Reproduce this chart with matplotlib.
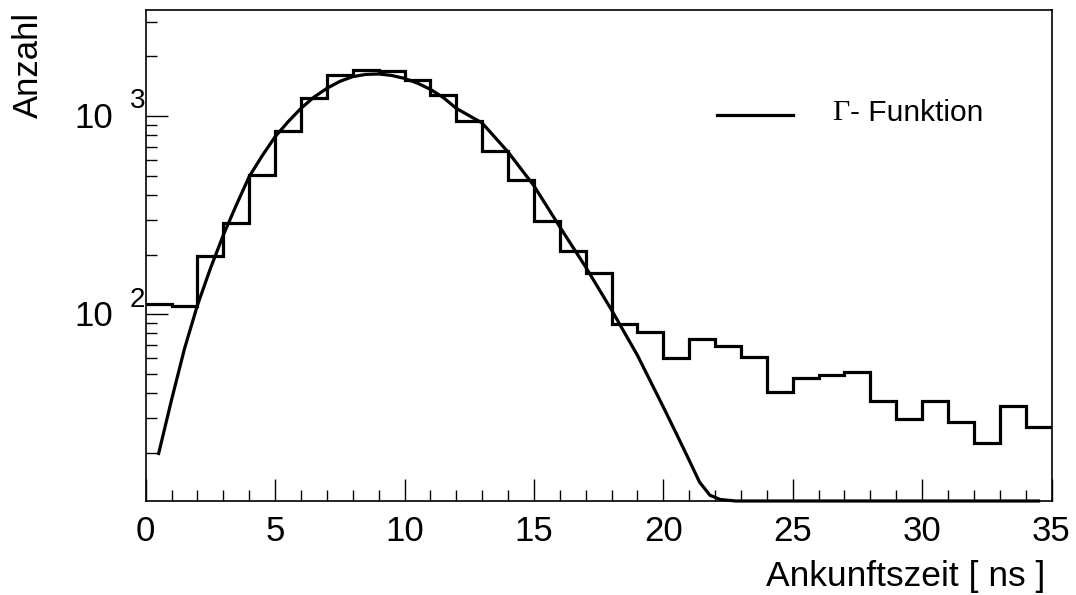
"""Arrival-time histogram (log scale) with the fitted Gamma-function curve."""
import matplotlib
matplotlib.use("Agg")
import matplotlib.pyplot as plt
import numpy as np
from matplotlib.lines import Line2D
from matplotlib.ticker import FixedLocator, NullFormatter, MultipleLocator

plt.rcParams["font.family"] = ["Liberation Sans", "DejaVu Sans"]

# histogram: 1 ns bins from 0 to 35 ns
bin_edges = list(range(0, 36))
counts = [112, 110, 196, 289, 502, 843, 1233, 1606, 1706, 1693,
          1520, 1271, 946, 668, 475, 296, 209, 162, 89, 81,
          60, 75, 69, 61, 40.5, 47.7, 49.2, 50.8, 36.4, 29.7,
          36.6, 28.6, 22.5, 34.4, 26.8]

# fitted Gamma function (values below the axis floor sit on it)
curve_x = [0.5, 1.0, 1.5, 2.0, 2.5, 3.0, 3.5, 4.0, 4.5, 5.0, 5.5, 6.0, 6.5, 7.0,
           7.5, 8.0, 8.5, 9.0, 9.5, 10.0, 10.5, 11.0, 11.5, 12.0, 13.0, 14.0,
           15.0, 16.0, 17.0, 18.0, 19.0, 20.0, 20.5, 21.0, 21.4, 21.8, 22.2,
           22.8, 23.5, 34.5]
curve_y = [19.8, 37, 67, 111, 170, 251, 355, 495, 630, 786, 935, 1094, 1245, 1380,
           1496, 1581, 1622, 1631, 1603, 1549, 1466, 1364, 1240, 1094, 922, 659,
           445, 276, 173, 105, 62, 34, 25, 18.3, 14.2, 12.2, 11.6,
           11.3, 10, 10]

YMIN, YMAX = 11.4, 3430

fig = plt.figure(figsize=(10.76, 5.95), dpi=100)
ax = fig.add_axes([145.7 / 1076, 1 - 501 / 595, (1051.5 - 145.7) / 1076, (501 - 10) / 595])

ax.stairs(counts, bin_edges, baseline=None, color="black", lw=2.3)
ax.plot(curve_x, np.maximum(curve_y, YMIN), color="black", lw=2.3, clip_on=False)

ax.set_yscale("log")
ax.set_xlim(0, 35)
ax.set_ylim(YMIN, YMAX)

ax.xaxis.set_major_locator(MultipleLocator(5))
ax.xaxis.set_minor_locator(MultipleLocator(1))
ax.yaxis.set_major_locator(FixedLocator([100, 1000]))
minor_y = [v * d for d in (10, 100, 1000) for v in range(2, 10) if YMIN < v * d < YMAX]
ax.yaxis.set_minor_locator(FixedLocator(minor_y))
ax.yaxis.set_major_formatter(NullFormatter())
ax.yaxis.set_minor_formatter(NullFormatter())

ax.tick_params(which="both", direction="in", top=False, right=False, color="black")
ax.tick_params(which="major", length=16, width=1.0)
ax.tick_params(which="minor", length=8, width=1.0)
ax.tick_params(axis="x", which="major", labelsize=25, pad=10)
for s in ax.spines.values():
    s.set_linewidth(1.2)

# ROOT-style "10 ^n" labels
for v, e in [(100, "2"), (1000, "3")]:
    ax.annotate("10", xy=(0, v), xycoords=("axes fraction", "data"),
                xytext=(-23.5, -1.8), textcoords="offset points",
                ha="right", va="center", fontsize=25)
    ax.annotate(e, xy=(0, v), xycoords=("axes fraction", "data"),
                xytext=(-11.3, 10.5), textcoords="offset points",
                ha="left", va="center", fontsize=20)

fig.text(12 / 1076, 1 - 12 / 595, "Anzahl", rotation=90, ha="left", va="top", fontsize=25)
fig.text(1045 / 1076, 1 - 586 / 595, "Ankunftszeit [ ns ]", ha="right", va="baseline",
         fontsize=25.5)

# legend, drawn by hand
fig.add_artist(Line2D([717 / 1076, 793 / 1076], [1 - 115 / 595] * 2, color="black", lw=2.3))
fig.text(832 / 1076, 1 - 113 / 595, "Γ", family="Liberation Serif", ha="left", va="center",
         fontsize=21.5)
fig.text(850 / 1076, 1 - 113 / 595, "- Funktion", ha="left", va="center", fontsize=21.5)

fig.savefig("out.png", dpi=100)
